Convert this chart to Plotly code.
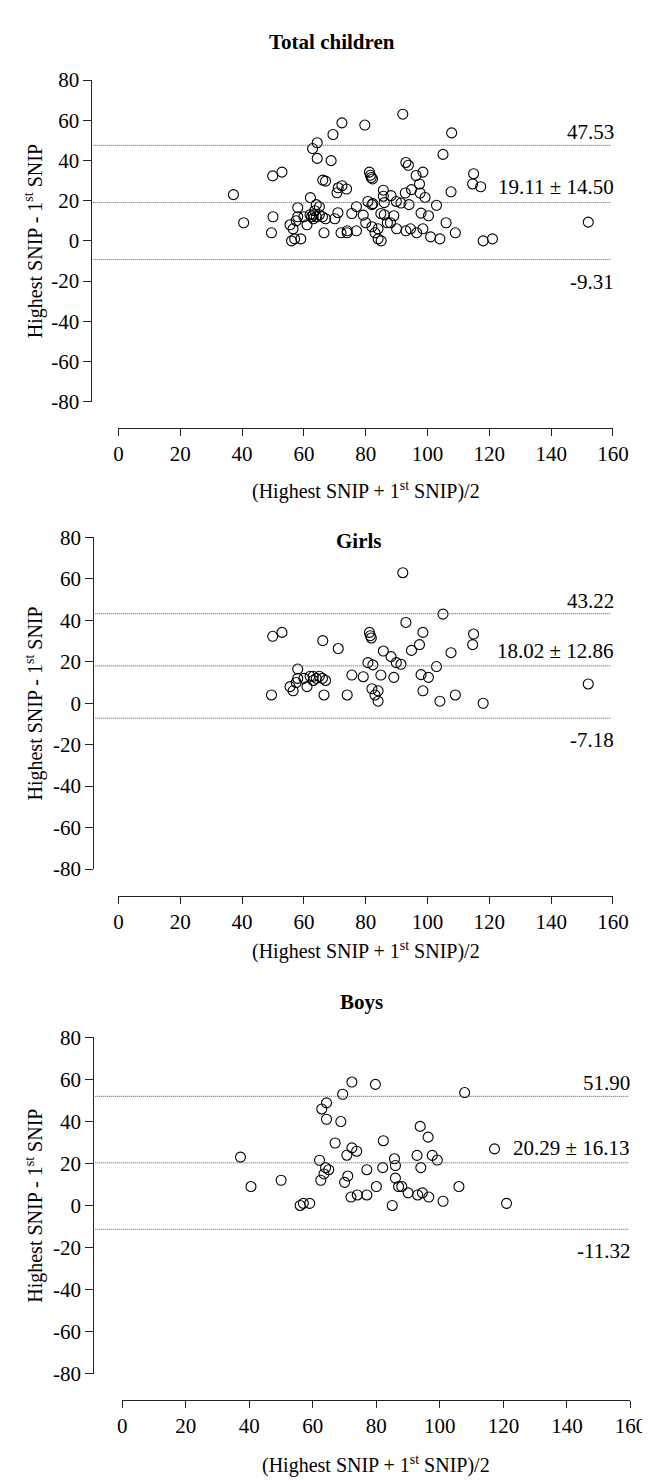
import plotly.graph_objects as go

# ---------------- data ----------------
girls_x = [49.5, 55.5, 56.5, 57.5, 58, 58, 60, 61, 62, 63, 63, 64, 65, 66, 67, 66.5, 74, 75.5,
           79.2, 80.7, 82.3, 82, 83, 84, 84, 84.9, 89.1, 89.9, 91.4, 97.9, 98.5, 100.3, 102.9,
           104, 109, 118, 152,
           49.9, 52.9, 66.1, 71.1, 81.2, 81.5, 81.8, 85.7, 88.2, 92, 93, 105, 98.5, 97.4, 94.8,
           107.6, 114.9, 114.6]
girls_y = [4, 8, 6, 10, 16.5, 12, 12, 8, 13, 11, 13, 12, 13, 12, 11, 4, 4, 13.6,
           12.8, 19.6, 18.5, 7, 4, 1, 6, 13.6, 12.5, 19.6, 18.8, 13.8, 6, 12.5, 17.7,
           1, 4, 0, 9.3,
           32.3, 34.2, 30.2, 26.4, 34.2, 32.6, 31.5, 25.2, 22.5, 63, 39, 43, 34.2, 28.3, 25.5,
           24.4, 33.4, 28.3]

boys_x = [37.2, 72.3, 79.7, 69.4, 64.3, 62.8, 64.3, 68.8, 67, 82.2, 72.3, 73.8, 70.7, 62.1,
          107.8, 93.8, 96.3, 117.2, 85.7, 92.8, 97.6, 99.2,
          40.5, 50, 56, 57, 59, 62.5, 63.5, 64, 65, 70, 71, 72, 74, 77, 77, 80, 82, 85, 86, 86,
          87, 88, 90, 93, 94, 94.5, 96.5, 101, 106, 121]
boys_y = [23, 58.7, 57.6, 52.9, 48.8, 45.9, 41, 39.9, 29.7, 30.8, 27.4, 25.8, 23.9, 21.5,
          53.7, 37.6, 32.5, 26.9, 22.2, 23.8, 23.8, 21.6,
          9, 12, 0, 1, 1, 12, 15, 18, 17, 11, 14, 4, 5, 5, 17, 9, 18, 0, 13, 19,
          9, 9, 6, 5, 18, 6, 4, 2, 9, 1]

total_x = girls_x + boys_x
total_y = girls_y + boys_y

panel_titles = ["Total children", "Girls", "Boys"]
mean_diff = [19.11, 18.02, 20.29]
sd_diff = [14.50, 12.86, 16.13]
upper_loa = [47.53, 43.22, 51.90]
lower_loa = [-9.31, -7.18, -11.32]

x_ticks = [0, 20, 40, 60, 80, 100, 120, 140, 160]
x_ticktext = ["0", "20", "40", "60", "80", "100", "120", "140", "160"]
y_ticks = [-80, -60, -40, -20, 0, 20, 40, 60, 80]
y_ticktext = ["-80", "-60", "-40", "-20", "0", "20", "40", "60", "80"]

xs = [total_x, girls_x, boys_x]
ys = [total_y, girls_y, boys_y]

# ---------------- layout (pixels) ----------------
W, H = 650, 1481
FONT = "Liberation Serif, Times New Roman, serif"
panels = [
    dict(xdom=(109, 620), xline=415, ydom=(61, 388), yline=81, title=(330, 22),
         right=623, xtitle=478, ytitle=22),
    dict(xdom=(109, 620), xline=890, ydom=(526, 863), yline=83, title=(358, 530),
         right=623, xtitle=946, ytitle=22),
    dict(xdom=(113, 638), xline=1403, ydom=(1034, 1376), yline=83, title=(360, 998),
         right=640, xtitle=1468, ytitle=22),
]

def px(p):
    return p / W

def py(p):
    return 1 - p / H

fig = go.Figure()
layout = dict(width=W, height=H, margin=dict(l=0, r=0, t=0, b=0),
              paper_bgcolor="white", plot_bgcolor="white", showlegend=False,
              font=dict(family=FONT, size=20, color="black"))
shapes = []
annotations = []

for i, p in enumerate(panels):
    n = "" if i == 0 else str(i + 1)
    xa, ya = "x" + n, "y" + n
    fig.add_trace(go.Scatter(
        x=xs[i], y=ys[i], mode="markers", xaxis=xa, yaxis=ya,
        marker=dict(symbol="circle-open", size=10, color="black", line=dict(width=1.1)),
        hoverinfo="skip"))
    layout["xaxis" + n] = dict(
        domain=[px(p["xdom"][0]), px(p["xdom"][1])], range=[0, 160],
        anchor="free", position=py(p["xline"]),
        showline=True, linecolor="#222", linewidth=1, ticks="outside", ticklen=7,
        tickcolor="#222", tickvals=x_ticks, ticktext=x_ticktext, showgrid=False,
        zeroline=False, tickfont=dict(family=FONT, size=21))
    layout["yaxis" + n] = dict(
        domain=[py(p["ydom"][1]), py(p["ydom"][0])], range=[-80, 80],
        anchor="free", position=px(p["yline"]),
        showline=True, linecolor="#222", linewidth=1, ticks="outside", ticklen=8,
        tickcolor="#222", tickvals=y_ticks, ticktext=y_ticktext, showgrid=False,
        zeroline=False, tickfont=dict(family=FONT, size=21))
    x0 = px(p["yline"] + 2)
    x1 = px(p["xdom"][1] - 2)
    for val in (upper_loa[i], mean_diff[i], lower_loa[i]):
        shapes.append(dict(type="line", xref="paper", yref=ya, x0=x0, x1=x1, y0=val, y1=val,
                           line=dict(color="#555", width=1, dash="1px,1px")))
    annotations.append(dict(xref="paper", yref=ya, x=px(p["right"]), y=upper_loa[i],
                            text=f"{upper_loa[i]:.2f}", showarrow=False, xanchor="right",
                            yanchor="middle", yshift=13, font=dict(family=FONT, size=21)))
    annotations.append(dict(xref="paper", yref=ya, x=px(p["right"]), y=mean_diff[i],
                            text=f"{mean_diff[i]:.2f} \u00b1 {sd_diff[i]:.2f}", showarrow=False,
                            xanchor="right", yanchor="middle", yshift=15,
                            font=dict(family=FONT, size=21)))
    annotations.append(dict(xref="paper", yref=ya, x=px(p["right"]), y=lower_loa[i],
                            text=f"{lower_loa[i]:.2f}", showarrow=False, xanchor="right",
                            yanchor="middle", yshift=-22, font=dict(family=FONT, size=21)))
    annotations.append(dict(xref="paper", yref="paper", x=px(p["title"][0]), y=py(p["title"][1]),
                            text="<b>" + panel_titles[i] + "</b>", showarrow=False,
                            xanchor="center", yanchor="middle", font=dict(family=FONT, size=21)))
    annotations.append(dict(xref="paper", yref="paper",
                            x=px((p["xdom"][0] + p["xdom"][1]) / 2), y=py(p["xtitle"]),
                            text="(Highest SNIP + 1<sup>st</sup> SNIP)/2", showarrow=False,
                            xanchor="center", yanchor="middle", font=dict(family=FONT, size=20)))
    annotations.append(dict(xref="paper", yref="paper", x=px(p["ytitle"]),
                            y=py((p["ydom"][0] + p["ydom"][1]) / 2),
                            text="Highest SNIP - 1<sup>st</sup> SNIP", showarrow=False,
                            textangle=-90, xanchor="center", yanchor="middle",
                            font=dict(family=FONT, size=20)))

layout["shapes"] = shapes
layout["annotations"] = annotations
fig.update_layout(**layout)
fig.write_html("out.html")
